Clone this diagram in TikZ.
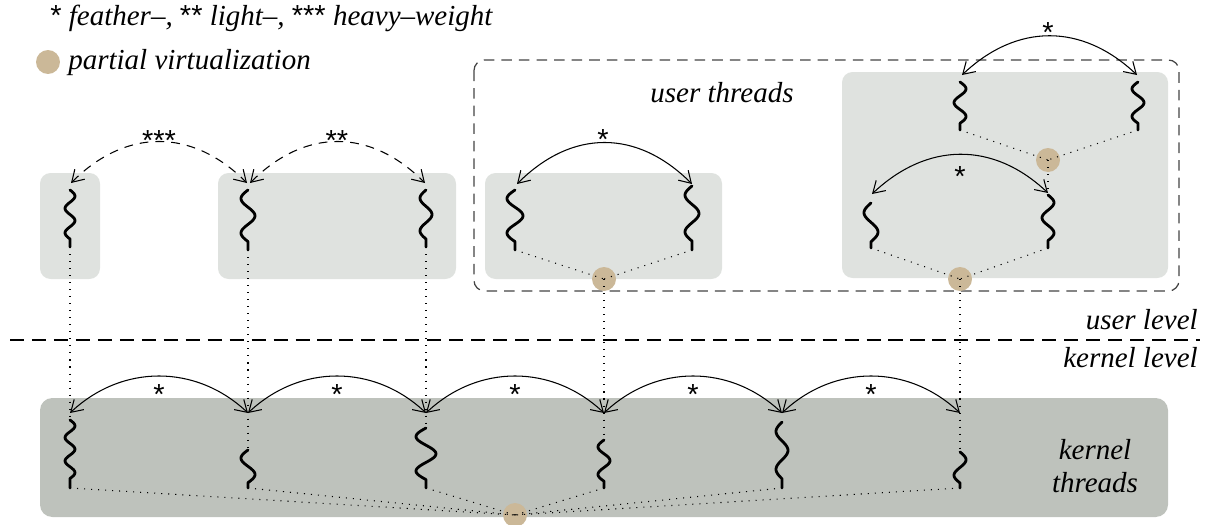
\documentclass[tikz,border=0pt]{standalone}
\usepackage{fontspec}
\setmainfont{Liberation Serif}
\newfontfamily\starfont{Liberation Sans}
\usetikzlibrary{arrows.meta}
\definecolor{ubox}{HTML}{DFE2DF}
\definecolor{kbox}{HTML}{BEC2BC}
\definecolor{vtan}{HTML}{CBB898}
\definecolor{dgray}{HTML}{444444}
% x, ytop, ybottom, amplitude, half-waves
\newcommand\drawthread[5]{%
  \draw[thrline] plot[variable=\t, domain=0:1, samples=41, smooth]
    ({#1+#4*sin(#5*180*\t)}, {#2+0.86*(#3-#2)*\t}) -- (#1,#3);}
\begin{document}
\begin{tikzpicture}[x=0.02cm,y=-0.02cm,
  font=\fontsize{16.5}{19}\selectfont\itshape,
  lbox/.style={fill=ubox, rounded corners=6pt},
  kerbox/.style={fill=kbox, rounded corners=7pt},
  vcirc/.style={circle, fill=vtan, minimum size=0.48cm, inner sep=0pt},
  thrline/.style={line width=1.6pt, line cap=round, line join=round},
  arr/.style={line width=0.6pt, {Straight Barb[length=6.5pt,width=8pt]}-{Straight Barb[length=6.5pt,width=8pt]}},
  darr/.style={arr, dash pattern=on 5pt off 4pt},
  dots/.style={line width=0.6pt, dash pattern=on 0.6pt off 3.4pt},
  starlbl/.style={font=\starfont\fontsize{16.5}{19}\selectfont, anchor=base, inner sep=0pt},
  txt/.style={inner sep=0pt}
]
\useasboundingbox (0,0) rectangle (1210,524);

% boxes
\path[lbox] (40,173) rectangle (100,279);
\path[lbox] (218,173) rectangle (456,279);
\path[lbox] (485,173) rectangle (722,279);
\path[lbox] (842,72) rectangle (1168,278);
\draw[dgray, line width=0.7pt, dash pattern=on 6pt off 4pt, rounded corners=6pt] (474,60) rectangle (1179,291);
\path[kerbox] (40,398) rectangle (1168,517);

% separator
\coordinate (sepL) at (10,340);
\coordinate (sepR) at (1200,340);
\draw[line width=1.3pt, dash pattern=on 8pt off 4.5pt] (sepL) -- (sepR);

% circles
\node[vcirc] (cC) at (604,279) {};
\node[vcirc] (cD1) at (1048,160) {};
\node[vcirc] (cD2) at (960,279) {};
\node[vcirc] (cK) at (515,515) {};

% thread coordinates (top / bottom)
\coordinate (u1t) at (70,190);   \coordinate (u1b) at (70,247);
\coordinate (u2t) at (248,190);  \coordinate (u2b) at (248,250);
\coordinate (u3t) at (426,190);  \coordinate (u3b) at (426,247);
\coordinate (u4t) at (515,190);  \coordinate (u4b) at (515,250);
\coordinate (u5t) at (692,186);  \coordinate (u5b) at (692,250);
\coordinate (u6t) at (960,82);   \coordinate (u6b) at (960,130);
\coordinate (u7t) at (1138,82);  \coordinate (u7b) at (1138,130);
\coordinate (u8t) at (871,203);  \coordinate (u8b) at (871,248);
\coordinate (u9t) at (1048,195); \coordinate (u9b) at (1048,248);
\coordinate (k1t) at (70,420);   \coordinate (k1b) at (70,488);
\coordinate (k2t) at (248,450);  \coordinate (k2b) at (248,488);
\coordinate (k3t) at (426,428);  \coordinate (k3b) at (426,488);
\coordinate (k4t) at (604,440);  \coordinate (k4b) at (604,488);
\coordinate (k5t) at (782,422);  \coordinate (k5b) at (782,488);
\coordinate (k6t) at (960,452);  \coordinate (k6b) at (960,488);

% dotted mappings
\draw[dots] (u1b) -- (k1t);
\draw[dots] (u2b) -- (k2t);
\draw[dots] (u3b) -- (k3t);
\draw[dots] (u4b) -- (cC.center);
\draw[dots] (u5b) -- (cC.center);
\draw[dots] (cC.center) -- (k4t);
\draw[dots] (u6b) -- (cD1.center);
\draw[dots] (u7b) -- (cD1.center);
\draw[dots] (cD1.center) -- (u9t);
\draw[dots] (u8b) -- (cD2.center);
\draw[dots] (u9b) -- (cD2.center);
\draw[dots] (cD2.center) -- (k6t);
\foreach \k in {k1b,k2b,k3b,k4b,k5b,k6b} \draw[dots] (\k) -- (cK.center);

% threads
\drawthread{70}{190}{247}{5}{4}
\drawthread{248}{190}{250}{-7}{3}
\drawthread{426}{190}{247}{-6}{3}
\drawthread{515}{190}{250}{-8}{3}
\drawthread{692}{186}{250}{-7}{3}
\drawthread{960}{82}{130}{6}{3}
\drawthread{1138}{82}{130}{-6}{3}
\drawthread{871}{203}{248}{-7}{2}
\drawthread{1048}{195}{248}{6}{3}
\drawthread{70}{420}{488}{5}{5}
\drawthread{248}{450}{488}{-7}{2}
\drawthread{426}{428}{488}{-10}{3}
\drawthread{604}{440}{488}{-6}{3}
\drawthread{782}{422}{488}{-6}{3}
\drawthread{960}{452}{488}{6}{2}

% arrow tips
\coordinate (a1) at (71,183);  \coordinate (a2) at (247,183);
\coordinate (a3) at (250,183); \coordinate (a4) at (425,183);
\coordinate (a5) at (517,184); \coordinate (a6) at (692,184);
\coordinate (a7) at (962,75);  \coordinate (a8) at (1137,75);
\coordinate (a9) at (872,194); \coordinate (a10) at (1048,193);
\foreach \i/\x in {1/70,2/248,3/426,4/604,5/782,6/960} \coordinate (k\i a) at (\x,413);

% arrows
\draw[darr] (a1) .. controls +(55,-55) and +(-55,-55) .. (a2);
\draw[darr] (a3) .. controls +(55,-55) and +(-55,-55) .. (a4);
\draw[arr] (a5) .. controls +(55,-55) and +(-55,-55) .. (a6);
\draw[arr] (a7) .. controls +(55,-52) and +(-55,-52) .. (a8);
\draw[arr] (a9) .. controls +(55,-52) and +(-55,-52) .. (a10);
\draw[arr] (k1a) .. controls +(52,-49) and +(-52,-49) .. (k2a);
\draw[arr] (k2a) .. controls +(52,-49) and +(-52,-49) .. (k3a);
\draw[arr] (k3a) .. controls +(52,-49) and +(-52,-49) .. (k4a);
\draw[arr] (k4a) .. controls +(52,-49) and +(-52,-49) .. (k5a);
\draw[arr] (k5a) .. controls +(52,-49) and +(-52,-49) .. (k6a);

% star labels
\node[starlbl] (s1) at (159,150) {***};
\node[starlbl] (s2) at (337,150) {**};
\node[starlbl] (s3) at (603,149) {*};
\node[starlbl] (s4) at (1048,42) {*};
\node[starlbl] (s5) at (960,186) {*};
\foreach \i/\x in {1/159,2/337,3/515,4/693,5/871} \node[starlbl] (ks\i) at (\x,404) {*};

% texts
\node[txt, anchor=west] (leg1) at (50,18) {{\starfont\upshape *} feather–, {\starfont\upshape **} light–, {\starfont\upshape ***} heavy–weight};
\node[vcirc] (legc) at (48,62) {};
\node[txt, anchor=west] (leg2) at (68,63) {partial virtualization};
\node[txt] (ut) at (722,93) {user threads};
\node[txt, anchor=east] (ul) at (1198,320) {user level};
\node[txt, anchor=east] (kl) at (1198,358) {kernel level};
\node[txt, align=center] (kt) at (1095,466) {kernel\\threads};
\end{tikzpicture}
\end{document}
